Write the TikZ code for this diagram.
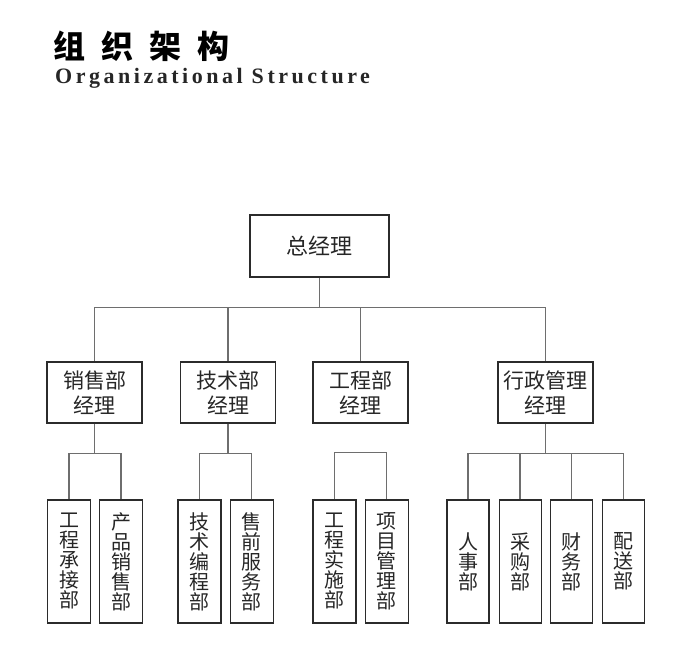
\documentclass[tikz,border=0pt]{standalone}
\usepackage{fontspec}
\usetikzlibrary{positioning,calc}
\newfontfamily\cjk{Noto Sans CJK SC}
\newfontfamily\titlefont[LetterSpace=16]{Liberation Serif}
\definecolor{boxline}{HTML}{2B2B2B}
\definecolor{wire}{HTML}{6E6E6E}

\begin{document}
\begin{tikzpicture}[
    x=1pt,y=-1pt,
    node distance=8pt and 8pt,
    box/.style={draw=boxline,line width=1.1pt,inner sep=0pt,align=center,text=black!85},
    topbox/.style={box,minimum width=139pt,minimum height=62pt,font=\cjk\fontsize{22}{24}\selectfont},
    headbox/.style={box,minimum width=95pt,minimum height=61pt,font=\cjk\fontsize{21}{25}\selectfont},
    vbox/.style={box,minimum width=43pt,minimum height=123pt,font=\cjk\fontsize{20}{20}\selectfont},
    wire/.style={draw=wire,line width=1.3pt}
]
\useasboundingbox (0,0) rectangle (693,652);

% title
\node[anchor=west,inner sep=0pt,font=\cjk\bfseries\fontsize{32}{34}\selectfont] (title) at (53,46) {组\hspace{16pt}织\hspace{16pt}架\hspace{16pt}构};
\node[anchor=base west,inner sep=0pt,font=\titlefont\bfseries\fontsize{22}{24}\selectfont,text=black!85] (subtitle) at (55,84) {Organizational Structure};

% general manager and department heads
\node[topbox] (gm) at (319.5,246) {总经理};
\node[headbox] (sales) at (94.5,392.5) {销售部\\经理};
\node[headbox] (tech)  at (228,392.5)  {技术部\\经理};
\node[headbox] (eng)   at (360.5,392.5) {工程部\\经理};
\node[headbox] (admin) at (545.5,392.5) {行政管理\\经理};

% departments
\node[vbox] (sA) at (69,561.5) {工\\程\\承\\接\\部};
\node[vbox,right=of sA] (sB) {产\\品\\销\\售\\部};
\node[vbox] (tA) at (199.5,561.5) {技\\术\\编\\程\\部};
\node[vbox,right=of tA] (tB) {售\\前\\服\\务\\部};
\node[vbox] (eA) at (334.5,561.5) {工\\程\\实\\施\\部};
\node[vbox,right=of eA] (eB) {项\\目\\管\\理\\部};
\node[vbox,minimum width=42pt] (aA) at (468,561.5) {人\\事\\部};
\node[vbox,minimum width=42pt,right=9pt of aA] (aB) {采\\购\\部};
\node[vbox,minimum width=42pt,right=8pt of aB] (aC) {财\\务\\部};
\node[vbox,minimum width=42pt,right=9pt of aC] (aD) {配\\送\\部};

% connectors
\draw[wire] (gm.south) -- ++(0,30) coordinate (bus);
\foreach \n in {sales,tech,eng,admin}
    \draw[wire] (bus) -| (\n.north);

\draw[wire] (sales.south) -- ++(0,30) coordinate (sbus);
\foreach \n in {sA,sB}
    \draw[wire] (sbus) -| (\n.north);

\draw[wire] (tech.south) -- ++(0,30) coordinate (tbus);
\foreach \n in {tA,tB}
    \draw[wire] (tbus) -| (\n.north);

\draw[wire] (eA.north) -- ++(0,-47) -| (eB.north);

\draw[wire] (admin.south) -- ++(0,30) coordinate (abus);
\foreach \n in {aA,aB,aC,aD}
    \draw[wire] (abus) -| (\n.north);
\end{tikzpicture}
\end{document}
